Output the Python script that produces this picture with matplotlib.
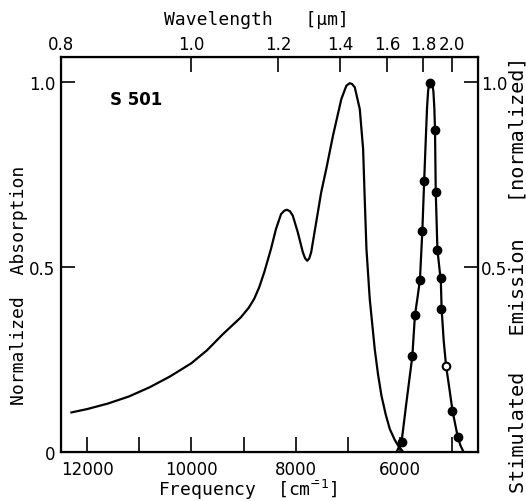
import numpy as np
import matplotlib
matplotlib.use("Agg")
import matplotlib.pyplot as plt

# absorption spectrum of S 501 (frequency in cm^-1, normalized)
abs_freq = [12300, 12000, 11600, 11200, 10800, 10400, 10000, 9700, 9400, 9051,
            8900, 8795, 8700, 8602, 8473, 8377, 8280, 8220, 8171, 8110,
            8055, 7959, 7862, 7820, 7779, 7740, 7702, 7606, 7510, 7413,
            7284, 7124, 7028, 6964, 6920, 6866, 6770, 6706, 6675, 6642,
            6579, 6483, 6420, 6354, 6270, 6194, 6100, 6033, 5936]
abs_val = [0.107, 0.116, 0.131, 0.150, 0.175, 0.205, 0.240, 0.275, 0.318, 0.364,
           0.390, 0.414, 0.445, 0.486, 0.549, 0.603, 0.643, 0.652, 0.655, 0.651,
           0.639, 0.594, 0.540, 0.524, 0.517, 0.523, 0.540, 0.621, 0.702, 0.765,
           0.855, 0.954, 0.990, 0.997, 0.995, 0.986, 0.927, 0.819, 0.684, 0.549,
           0.414, 0.278, 0.210, 0.152, 0.100, 0.062, 0.033, 0.017, 0.0]

# stimulated emission, measured points
em_freq = [5968, 5762, 5712, 5616, 5570, 5535, 5423, 5327, 5313, 5281,
           5210, 5210, 4992, 4890]
em_val = [0.028, 0.259, 0.370, 0.466, 0.598, 0.733, 0.997, 0.870, 0.704, 0.547,
          0.470, 0.386, 0.112, 0.040]
em_open_freq = [5115]
em_open_val = [0.233]

# drawn emission curve
emc_freq = [6065, 5968, 5870, 5762, 5712, 5660, 5616, 5570, 5535, 5500,
            5480, 5460, 5440, 5423, 5400, 5375, 5358, 5340, 5327, 5313,
            5281, 5245, 5215, 5200, 5160, 5115, 5050, 4992, 4940, 4890,
            4840, 4780]
emc_val = [0.0, 0.028, 0.140, 0.259, 0.370, 0.420, 0.466, 0.598, 0.733, 0.860,
           0.930, 0.975, 0.995, 1.000, 0.997, 0.990, 0.975, 0.930, 0.870, 0.704,
           0.547, 0.500, 0.460, 0.386, 0.300, 0.233, 0.170, 0.112, 0.075, 0.040,
           0.018, 0.0]

wl_ticks = [0.8, 1.0, 1.2, 1.4, 1.6, 1.8, 2.0]
freq_major = [12000, 11000, 10000, 9000, 8000, 7000, 6000, 5000]
freq_labels = ["12000", "", "10000", "", "8000", "", "6000", ""]

mono = "DejaVu Sans Mono"
plt.rcParams["font.family"] = "DejaVu Sans"

fig = plt.figure(figsize=(5.26, 5.02), dpi=100)
ax = fig.add_axes([0.116, 0.0976, 0.793, 0.787])

ax.plot(abs_freq, abs_val, color="black", lw=1.6)
ax.plot(emc_freq, emc_val, color="black", lw=1.6)
ax.plot(em_freq, em_val, "o", color="black", ms=6)
ax.plot(em_open_freq, em_open_val, "o", mfc="white", mec="black", mew=1.5, ms=5.5)

ax.set_xlim(12500, 4500)
ax.set_ylim(0, 1.068)
for s in ax.spines.values():
    s.set_linewidth(1.6)

ax.set_xticks(freq_major)
ax.set_xticklabels(freq_labels, fontsize=12)
ax.set_yticks([0, 0.5, 1.0])
ax.set_yticklabels(["0", "0.5", "1.0"], fontsize=12)
ax.tick_params(axis="x", direction="in", length=11, width=1.2, pad=6)
ax.tick_params(axis="y", direction="in", length=10, width=1.2, pad=4)

top = ax.secondary_xaxis("top", functions=(lambda f: 1e4 / f, lambda w: 1e4 / w))
top.set_xticks(wl_ticks)
top.set_xticklabels([f"{w:.1f}" for w in wl_ticks], fontsize=12)
top.tick_params(direction="in", length=11, width=1.2, pad=3)

right = ax.twinx()
right.set_ylim(0, 1.068)
right.set_yticks([0.5, 1.0])
right.set_yticklabels(["0.5", "1.0"], fontsize=12)
right.tick_params(direction="in", length=10, width=1.2, pad=2)

# axis titles placed directly on the figure
fig.text(0.471, 0.024, "Frequency  [cm$^{\\bar{-}1}$]", fontsize=13, family=mono,
         ha="center", va="center")
fig.text(0.487, 0.96, "Wavelength   [µm]", fontsize=13, family=mono,
         ha="center", va="center")
fig.text(0.036, 0.432, "Normalized  Absorption", fontsize=13, family=mono,
         rotation=90, ha="center", va="center")
fig.text(0.984, 0.452, "Stimulated   Emission   [normalized]", fontsize=14.5,
         family=mono, rotation=90, ha="center", va="center")

ax.text(11560, 0.954, "S 501", fontsize=12, fontweight="bold", va="center")

fig.savefig("out.png", dpi=100)
